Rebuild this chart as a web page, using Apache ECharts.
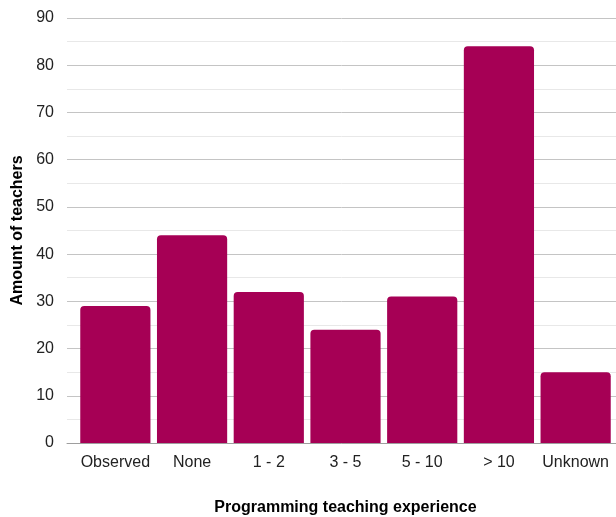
<!DOCTYPE html>
<html>
<head>
<meta charset="utf-8">
<script src="https://cdn.jsdelivr.net/npm/echarts@6/dist/echarts.min.js"></script>
<style>
  html, body { margin: 0; padding: 0; background: #fff; }
  #chart { width: 616px; height: 517px; }
</style>
</head>
<body>
<div id="chart"></div>
<script>
// Teachers grouped by years of programming teaching experience
const categories = ['Observed', 'None', '1 - 2', '3 - 5', '5 - 10', '> 10', 'Unknown'];
const teacherCounts = [29, 44, 32, 24, 31, 84, 15];
const yTicks = { min: 0, max: 90, interval: 10 };

const FONT = '"Liberation Sans", Arial, sans-serif';
const BAR_COLOR = '#a60055';

const chart = echarts.init(document.getElementById('chart'), null, { renderer: 'canvas' });

chart.setOption({
  backgroundColor: '#ffffff',
  animation: false,
  textStyle: { fontFamily: FONT },
  grid: [
    // frame: value axis, gridlines and baseline across the full plot width
    { left: 67, right: 0, top: 18, bottom: 74, outerBoundsMode: 'none', containLabel: false },
    // bars
    { left: 77, right: 2, top: 18, bottom: 74, outerBoundsMode: 'none', containLabel: false }
  ],
  xAxis: [
    {
      gridIndex: 0, type: 'value', min: 0, max: 1,
      axisLine: { show: true, lineStyle: { color: '#9e9e9e', width: 1 } },
      axisTick: { show: false }, axisLabel: { show: false }, splitLine: { show: false }
    },
    {
      gridIndex: 1, type: 'category', data: categories,
      axisLine: { show: false }, axisTick: { show: false },
      axisLabel: { color: '#222', fontSize: 16, margin: 12, fontFamily: FONT, interval: 0 },
      name: 'Programming teaching experience',
      nameLocation: 'middle', nameGap: 57,
      nameTextStyle: { color: '#000', fontSize: 16, fontWeight: 'bold', fontFamily: FONT }
    }
  ],
  yAxis: [
    {
      gridIndex: 0, type: 'value',
      min: yTicks.min, max: yTicks.max, interval: yTicks.interval,
      axisLine: { show: false }, axisTick: { show: false },
      axisLabel: { color: '#222', fontSize: 16, margin: 13, fontFamily: FONT },
      splitLine: { show: true, lineStyle: { color: '#c4c4c4', width: 1 } },
      minorTick: { show: false, splitNumber: 2 },
      minorSplitLine: { show: true, lineStyle: { color: '#e8e8e8', width: 1 } },
      name: 'Amount of teachers',
      nameLocation: 'middle', nameGap: 38, nameRotate: 90,
      nameTextStyle: { color: '#000', fontSize: 16, fontWeight: 'bold', fontFamily: FONT }
    },
    {
      gridIndex: 1, type: 'value',
      min: yTicks.min, max: yTicks.max, interval: yTicks.interval,
      show: false, splitLine: { show: false }
    }
  ],
  series: [
    {
      type: 'bar',
      xAxisIndex: 1, yAxisIndex: 1,
      data: teacherCounts,
      barCategoryGap: '8.5%',
      itemStyle: { color: BAR_COLOR, borderRadius: [4, 4, 0, 0] }
    }
  ]
});
</script>
</body>
</html>
